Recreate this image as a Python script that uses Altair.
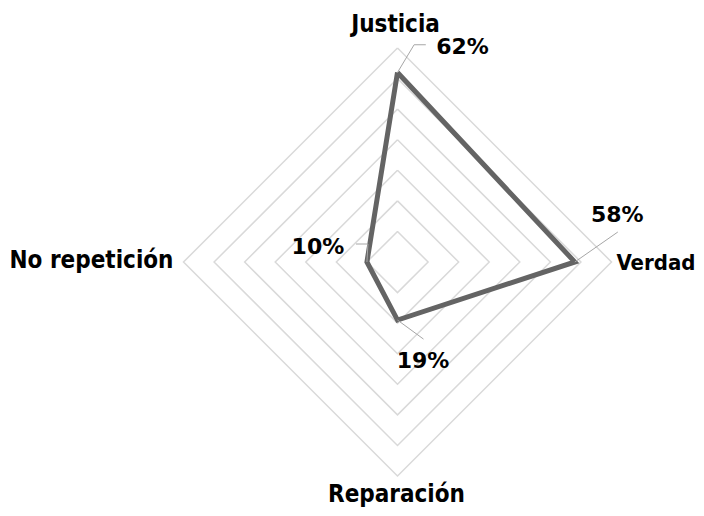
import altair as alt
import pandas as pd

categories = ["Justicia", "Verdad", "Reparación", "No repetición"]
values = [62, 58, 19, 10]
value_labels = ["62%", "58%", "19%", "10%"]
ring_levels = [10, 20, 30, 40, 50, 60, 70]
axis_max = 70

n = len(categories)
series = pd.DataFrame({
    "cat": categories + [categories[0]],
    "idx": list(range(n)) + [n],
    "value": values + [values[0]],
    "label": value_labels + [value_labels[0]],
})
rings = pd.DataFrame([{"level": L, "idx": i} for L in ring_levels for i in range(n + 1)])
cats = pd.DataFrame({"cat": categories, "idx": list(range(n)), "value": [axis_max] * n})

CAT_FONT = "DejaVu Sans Condensed"
VAL_FONT = "DejaVu Sans"
W, H = 688, 500
k = 214 / axis_max  # px per unit
cx, cy = 389.5, 254
xs = alt.Scale(domain=[-cx / k, (W - cx) / k], nice=False, zero=False)
ys = alt.Scale(domain=[-(H - cy) / k, cy / k], nice=False, zero=False)

X = alt.X("px:Q", scale=xs, axis=None)
Y = alt.Y("py:Q", scale=ys, axis=None)


def with_xy(ch, field):
    return ch.transform_calculate(ang=f"PI/2 - datum.idx*2*PI/{n}") \
        .transform_calculate(px=f"datum.{field}*cos(datum.ang)", py=f"datum.{field}*sin(datum.ang)")


ring_chart = with_xy(alt.Chart(rings).mark_line(color="#d9d9d9", strokeWidth=1.5).encode(
    x=X, y=Y, detail="level:N", order="idx:Q"
), "level")

line_chart = with_xy(alt.Chart(series).mark_line(color="#646464", strokeWidth=5, strokeJoin="miter").encode(
    x=X, y=Y, order="idx:Q"
), "value")

# leader lines per data label: segments (x1,y1,x2,y2) as pixel offsets from the point
leaders = {
    "Justicia": [(0, 0, 16.6, -27.7), (16.6, -27.7, 28.3, -27.7)],
    "Verdad": [(0, 0, 43, -30)],
    "Reparación": [(0, 0, 26, 19)],
    "No repetición": [(0, 0, 1, -18), (1, -18, -11, -18)],
}
label_off = {
    "Justicia": (65, -18),
    "Verdad": (42.5, -40),
    "Reparación": (25.5, 47.5),
    "No repetición": (-49, -8),
}
cat_style = {
    "Justicia": dict(align="center", dx=-2, dy=-16, fontSize=24),
    "Verdad": dict(align="left", dx=5, dy=8, fontSize=22),
    "Reparación": dict(align="center", dx=-1, dy=26, fontSize=24),
    "No repetición": dict(align="right", dx=-10, dy=6, fontSize=24),
}

layers = [ring_chart, line_chart]
pts = series[series["idx"] < n]
for c in categories:
    for (x1, y1, x2, y2) in leaders[c]:
        layers.append(with_xy(alt.Chart(pts).mark_rule(
            color="#a6a6a6", strokeWidth=1, xOffset=x1, yOffset=y1, x2Offset=x2, y2Offset=y2
        ).encode(x=X, y=Y, x2="px:Q", y2="py:Q"), "value").transform_filter(alt.datum.cat == c))
    dx, dy = label_off[c]
    layers.append(with_xy(alt.Chart(pts).mark_text(
        font=VAL_FONT, fontWeight="bold", fontSize=22, color="black",
        align="center", baseline="alphabetic", dx=dx, dy=dy
    ).encode(x=X, y=Y, text="label:N"), "value").transform_filter(alt.datum.cat == c))
    layers.append(with_xy(alt.Chart(cats).mark_text(
        font=CAT_FONT, fontWeight="bold", color="black",
        baseline="alphabetic", **cat_style[c]
    ).encode(x=X, y=Y, text="cat:N"), "value").transform_filter(alt.datum.cat == c))

chart = alt.layer(*layers).properties(
    width=W, height=H, padding=0, autosize=alt.AutoSizeParams(type="none")
).configure_view(stroke=None)
chart.save("out.html", embed_options={"renderer": "svg", "actions": False})
